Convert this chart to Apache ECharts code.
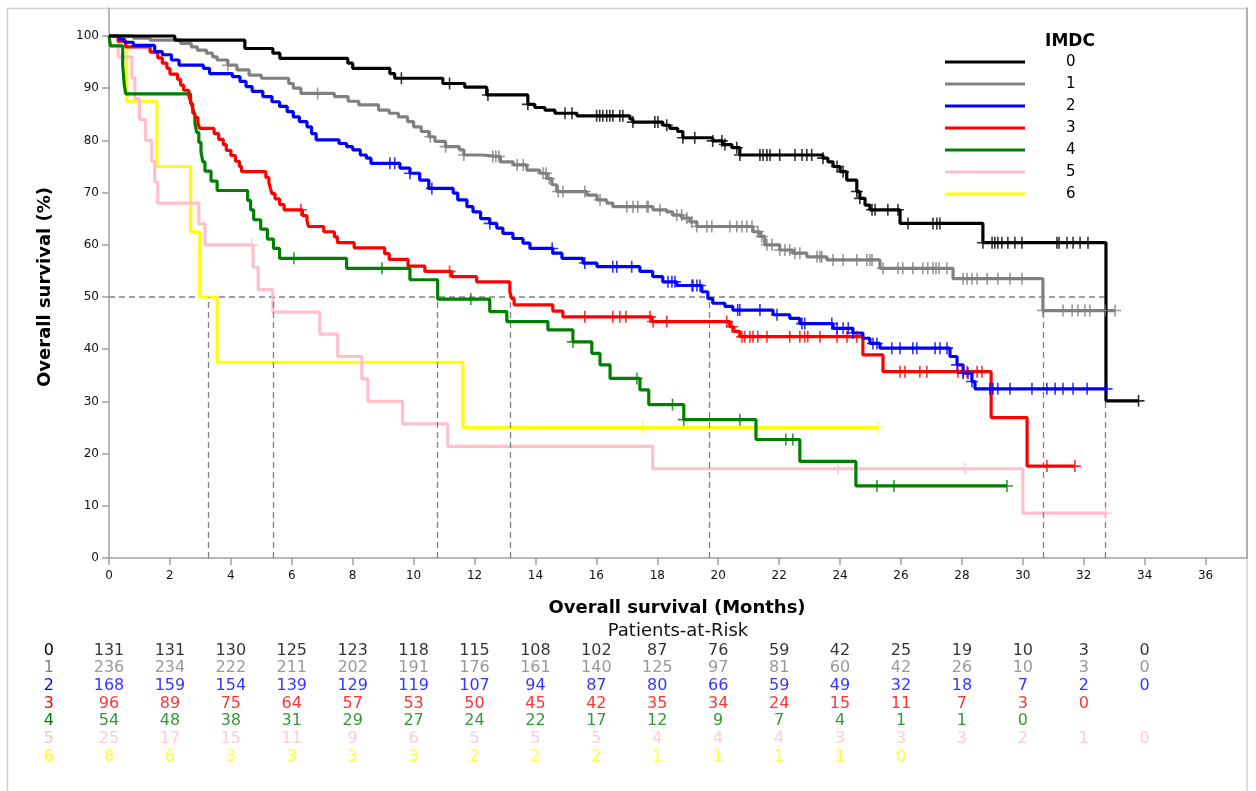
<!DOCTYPE html>
<html>
<head>
<meta charset="utf-8">
<script src="https://cdn.jsdelivr.net/npm/echarts@6/dist/echarts.min.js"></script>
<style>
  html, body { margin: 0; padding: 0; background: #ffffff; }
  #chart { width: 1256px; height: 791px; }
</style>
</head>
<body>
<div id="chart"></div>
<script>
// IMDC risk groups
const groupNames = ['0', '1', '2', '3', '4', '5', '6'];

// Kaplan-Meier steps per group: [month, survival % after the event]
const steps0 = [[2.16,99.2],[4.46,97.6],[5.38,96.7],[5.61,95.7],[7.84,94.8],[8.0,93.8],[9.22,92.8],[9.38,91.9],[10.96,90.9],[11.68,90.2],[12.4,88.7],[13.75,86.9],[13.98,86.3],[14.31,85.8],[14.64,85.2],[15.36,84.7],[17.1,84.1],[17.2,83.5],[18.18,82.9],[18.41,82.3],[18.67,81.7],[18.84,80.5],[19.82,79.9],[20.15,79.2],[20.45,78.6],[20.71,77.2],[23.44,76.6],[23.6,75.9],[23.77,75.0],[24.0,74.0],[24.22,72.4],[24.55,70.2],[24.65,68.9],[24.82,67.6],[24.98,66.7],[25.97,64.1],[28.69,60.4],[32.73,30.1]];
const steps1 = [[0.8,99.6],[1.35,99.2],[2.35,98.6],[2.7,97.9],[2.9,97.3],[3.2,96.7],[3.4,96.0],[3.55,95.4],[3.9,94.4],[4.2,93.5],[4.6,92.5],[5.0,91.9],[5.9,90.9],[6.05,90.0],[6.3,89.0],[7.4,88.4],[7.85,87.5],[8.2,86.8],[8.85,85.8],[9.2,85.2],[9.5,84.5],[9.8,83.6],[10.0,82.6],[10.25,81.7],[10.5,80.7],[10.7,79.8],[11.05,78.8],[11.5,78.2],[11.65,77.2],[12.25,76.9],[12.85,75.9],[13.27,75.3],[13.72,74.3],[14.14,73.7],[14.37,72.7],[14.54,71.5],[14.7,70.2],[15.69,69.5],[16.02,68.6],[16.34,68.0],[16.54,67.3],[17.86,66.7],[18.31,66.3],[18.51,65.7],[18.81,65.1],[19.07,64.4],[19.3,63.5],[21.14,62.5],[21.37,61.6],[21.53,60.0],[22.02,59.0],[22.45,58.4],[22.91,57.7],[23.57,57.1],[25.31,55.5],[27.71,53.5],[30.66,47.4]];
const steps2 = [[0.35,99.4],[0.5,98.8],[0.8,98.2],[1.5,97.0],[1.75,96.4],[2.05,95.4],[2.3,94.4],[3.1,93.8],[3.3,92.8],[4.05,92.2],[4.3,91.3],[4.5,90.3],[4.7,89.4],[5.05,88.4],[5.35,87.4],[5.6,86.5],[5.85,85.5],[6.05,84.5],[6.25,83.6],[6.5,82.6],[6.65,81.3],[6.8,80.1],[7.55,79.4],[7.8,78.8],[8.0,78.2],[8.25,77.2],[8.45,76.6],[8.6,75.6],[9.55,74.7],[9.88,73.7],[10.2,72.4],[10.5,70.8],[11.3,69.9],[11.45,68.6],[11.75,67.3],[11.95,66.3],[12.2,65.0],[12.5,64.1],[12.73,63.2],[12.93,62.2],[13.26,61.2],[13.59,60.3],[13.82,59.3],[14.57,58.4],[14.87,57.4],[15.56,56.5],[16.02,55.8],[17.43,54.9],[17.85,53.9],[18.18,52.9],[18.64,52.2],[19.46,51.0],[19.66,49.7],[19.82,48.8],[20.22,48.2],[20.48,47.5],[21.8,46.6],[22.35,45.9],[22.68,44.9],[23.77,44.0],[24.42,43.1],[24.75,42.1],[24.98,41.1],[25.31,40.2],[27.61,38.6],[27.84,37.0],[28.04,35.4],[28.33,33.8],[28.43,32.4]];
const steps3 = [[0.3,99.0],[0.55,97.9],[1.35,96.9],[1.6,95.8],[1.75,94.8],[1.9,93.8],[2.0,92.7],[2.25,91.7],[2.35,90.6],[2.45,89.6],[2.62,88.5],[2.68,87.5],[2.73,86.5],[2.78,85.4],[2.84,84.4],[2.92,83.3],[2.98,82.3],[3.45,81.3],[3.6,80.2],[3.75,79.2],[3.85,78.1],[4.0,77.1],[4.15,76.0],[4.28,75.0],[4.35,74.0],[5.15,72.9],[5.25,71.9],[5.3,70.8],[5.35,69.8],[5.45,68.8],[5.6,67.7],[5.75,66.7],[6.35,65.6],[6.5,64.6],[6.55,63.5],[7.05,62.5],[7.4,61.5],[7.5,60.4],[8.05,59.4],[9.05,58.3],[9.2,57.2],[9.82,55.9],[10.37,54.9],[11.25,53.9],[12.07,52.9],[13.16,50.9],[13.22,49.7],[13.3,48.5],[14.57,47.3],[14.9,46.2],[17.82,45.3],[20.38,44.3],[20.51,43.4],[20.71,42.4],[24.75,38.9],[25.41,35.7],[28.96,26.9],[30.14,17.6]];
const steps4 = [[0.05,98.1],[0.45,94.4],[0.5,90.7],[0.55,88.9],[2.68,87.0],[2.75,85.2],[2.82,83.3],[2.88,81.5],[2.95,79.6],[3.02,77.8],[3.08,75.9],[3.15,74.1],[3.35,72.2],[3.55,70.4],[4.55,68.5],[4.65,66.7],[4.75,64.8],[4.98,63.0],[5.2,61.1],[5.4,59.3],[5.6,57.4],[7.8,55.5],[9.88,53.3],[10.79,49.6],[12.5,47.2],[13.06,45.3],[14.41,43.7],[15.23,41.4],[15.85,39.2],[16.12,37.0],[16.45,34.4],[17.43,32.2],[17.72,29.4],[18.87,26.5],[21.24,22.7],[22.68,18.5],[24.52,13.8]];
const steps5 = [[0.3,96],[0.75,92],[0.85,88],[1.0,84],[1.2,80],[1.4,76],[1.5,72],[1.6,68],[2.95,64],[3.15,60],[4.73,55.7],[4.9,51.4],[5.38,47.1],[6.92,42.9],[7.51,38.6],[8.3,34.3],[8.5,30.0],[9.64,25.7],[11.12,21.4],[17.85,17.1],[30.0,8.6]];
const steps6 = [[0.58,87.5],[1.57,75],[2.68,62.5],[2.98,50],[3.55,37.5],[11.62,25]];
const allSteps = [steps0, steps1, steps2, steps3, steps4, steps5, steps6];

// Censoring times (months) per group
const censor0 = [9.6,11.18,12.44,13.75,14.97,15.2,16.01,16.11,16.21,16.34,16.44,16.54,16.77,16.87,17.2,17.92,18.02,18.31,18.84,19.23,19.82,20.12,20.22,20.61,20.71,21.37,21.47,21.6,21.7,22.02,22.52,22.75,22.91,23.07,23.44,23.9,24.1,24.55,24.65,25.05,25.15,25.57,25.9,26.23,27.05,27.18,27.28,28.69,28.99,29.08,29.18,29.31,29.51,29.74,29.97,31.12,31.19,31.45,31.65,31.88,32.14,33.8];
const censor1 = [3.9,6.85,10.55,11.05,11.65,12.6,12.7,12.8,13.4,13.6,14.25,14.35,14.45,14.75,14.9,15.62,16.12,17.0,17.2,17.36,17.66,17.7,18.09,18.64,18.8,18.97,19.13,19.3,19.63,19.79,20.38,20.61,20.78,20.94,21.11,21.3,21.43,21.6,21.76,22.02,22.19,22.35,22.52,22.68,23.24,23.34,23.4,23.77,24.1,24.55,24.88,24.98,25.05,25.41,25.9,26.06,26.39,26.72,26.88,27.05,27.15,27.25,27.51,28.04,28.17,28.33,28.5,28.83,29.18,29.58,29.97,30.66,31.32,31.62,31.81,32.04,32.2,32.7,33.03];
const censor2 = [9.22,9.38,9.88,10.6,12.5,14.55,15.62,16.54,16.67,17.16,18.35,18.48,18.58,19.14,19.17,19.3,19.4,20.64,20.71,21.37,21.93,22.75,22.84,23.73,23.9,24.1,24.27,24.42,25.08,25.21,25.7,25.97,26.39,26.52,27.12,27.28,27.51,27.84,28.04,28.2,28.33,28.92,29.02,29.18,29.58,30.3,30.79,31.06,31.32,31.65,32.11,32.75];
const censor3 = [6.3,11.18,15.62,16.54,16.77,16.97,17.76,17.86,18.31,20.28,20.45,20.78,20.87,21.04,21.14,21.3,21.6,22.35,22.68,22.84,22.94,23.34,23.9,24.23,24.55,25.97,26.13,26.62,26.85,27.87,28.04,28.17,28.5,28.66,30.79,31.71];
const censor4 = [6.07,8.96,11.88,15.23,17.33,18.5,18.87,20.71,22.22,22.45,25.21,25.77,29.48];
const censor5 = [4.69,23.93,28.1,32.72];
const censor6 = [17.53,25.24];
const allCensor = [censor0, censor1, censor2, censor3, censor4, censor5, censor6];

// Last follow-up time per group (months)
const lastTimes = [33.8, 33.03, 32.75, 31.71, 29.48, 32.72, 25.24];

// Median survival (months) per group, for the reference lines at 50%
const medians = [32.7, 30.66, 19.72, 13.16, 10.79, 5.38, 3.27];

// Patients at risk
const riskTimes = [0,2,4,6,8,10,12,14,16,18,20,22,24,26,28,30,32,34];
const risk0 = [131,131,130,125,123,118,115,108,102,87,76,59,42,25,19,10,3,0];
const risk1 = [236,234,222,211,202,191,176,161,140,125,97,81,60,42,26,10,3,0];
const risk2 = [168,159,154,139,129,119,107,94,87,80,66,59,49,32,18,7,2,0];
const risk3 = [96,89,75,64,57,53,50,45,42,35,34,24,15,11,7,3,0];
const risk4 = [54,48,38,31,29,27,24,22,17,12,9,7,4,1,1,0];
const risk5 = [25,17,15,11,9,6,5,5,5,4,4,4,3,3,3,2,1,0];
const risk6 = [8,6,3,3,3,3,2,2,2,1,1,1,1,0];
const allRisk = [risk0, risk1, risk2, risk3, risk4, risk5, risk6];

const xTicks = [0,2,4,6,8,10,12,14,16,18,20,22,24,26,28,30,32,34,36];
const yTicks = [0,10,20,30,40,50,60,70,80,90,100];

const palette = ['#000000', '#808080', '#0000ff', '#ff0000', '#008000', '#ffc0cb', '#ffff00'];
const FONT = 'DejaVu Sans';
const X_MAX = 37.36;
const Y_MAX = 105.36;

// survival value of a step curve at time t
function survivalAt(steps, t) {
  let s = 100;
  for (const [tt, v] of steps) { if (tt <= t + 1e-9) s = v; else break; }
  return s;
}

const plusSymbol = 'path://M5.2,0H6.8V12H5.2Z M0,5.2H12V6.8H0Z';

const series = [];

// median reference lines (dashed)
const medMax = Math.max(...medians);
series.push({
  name: 'median',
  type: 'line',
  xAxisIndex: 0, yAxisIndex: 0,
  data: [[0, 50], [medMax, 50]],
  symbol: 'none',
  silent: true,
  z: 1,
  lineStyle: { color: '#808080', width: 1.3, type: [6, 4] },
  markLine: {
    silent: true,
    symbol: ['none', 'none'],
    label: { show: false },
    lineStyle: { color: '#808080', width: 1.3, type: [6, 4] },
    data: medians.map(m => [{ coord: [m, 0] }, { coord: [m, 50] }])
  }
});

// survival curves, drawn from group 6 up to group 0
for (let g = 6; g >= 0; g--) {
  const st = allSteps[g];
  const lastVal = st.length ? st[st.length - 1][1] : 100;
  const data = [[0, 100]].concat(st).concat([[lastTimes[g], lastVal]]);
  series.push({
    name: groupNames[g],
    type: 'line',
    xAxisIndex: 0, yAxisIndex: 0,
    step: 'end',
    data: data,
    symbol: 'none',
    z: 3 + (6 - g),
    itemStyle: { color: palette[g] },
    lineStyle: { color: palette[g], width: 3.2 }
  });
}
for (let g = 6; g >= 0; g--) {
  series.push({
    name: 'censored ' + groupNames[g],
    type: 'scatter',
    xAxisIndex: 0, yAxisIndex: 0,
    data: allCensor[g].map(t => [t, survivalAt(allSteps[g], t)]),
    symbol: plusSymbol,
    symbolSize: [12, 12],
    silent: true,
    z: 12 + (6 - g),
    itemStyle: { color: palette[g] }
  });
}

// patients-at-risk table
for (let g = 0; g < 7; g++) {
  series.push({
    name: 'risk ' + groupNames[g],
    type: 'scatter',
    xAxisIndex: 1, yAxisIndex: 2,
    data: allRisk[g].map((n, i) => [riskTimes[i], g, n]),
    symbolSize: 2,
    silent: true,
    itemStyle: { color: 'rgba(255,255,255,0)' },
    label: {
      show: true,
      position: 'inside',
      formatter: p => String(p.value[2]),
      color: palette[g],
      fontFamily: FONT,
      fontSize: 16
    }
  });
}

const rowRich = {};
groupNames.forEach((n, i) => {
  rowRich['g' + i] = { color: palette[i], fontFamily: FONT, fontSize: 16 };
});

const option = {
  animation: false,
  backgroundColor: '#ffffff',
  grid: [
    { left: 109, top: 8, width: 1138, height: 550 },
    { left: 109, top: 641.6, width: 1138, height: 124 }
  ],
  xAxis: [
    {
      gridIndex: 0, type: 'value', min: 0, max: X_MAX,
      axisLine: { show: true, lineStyle: { color: '#a0a0a0', width: 1.5 } },
      axisTick: { show: true, length: 7, customValues: xTicks, lineStyle: { color: '#a0a0a0', width: 1.5 } },
      axisLabel: { customValues: xTicks, margin: 12, color: '#111', fontFamily: FONT, fontSize: 12 },
      splitLine: { show: false }
    },
    { gridIndex: 1, type: 'value', min: 0, max: X_MAX, show: false }
  ],
  yAxis: [
    {
      gridIndex: 0, type: 'value', min: 0, max: Y_MAX,
      axisLine: { show: true, lineStyle: { color: '#a0a0a0', width: 1.5 } },
      axisTick: { show: true, length: 7, customValues: yTicks, lineStyle: { color: '#a0a0a0', width: 1.5 } },
      axisLabel: { customValues: yTicks, margin: 10, color: '#111', fontFamily: FONT, fontSize: 12 },
      splitLine: { show: false }
    },
    {
      gridIndex: 0, type: 'value', min: 0, max: Y_MAX, position: 'right',
      axisLine: { show: true, lineStyle: { color: '#a0a0a0', width: 1.5 } },
      axisTick: { show: false }, axisLabel: { show: false }, splitLine: { show: false }
    },
    {
      gridIndex: 1, type: 'category', data: groupNames, inverse: true,
      axisLine: { show: false }, axisTick: { show: false }, splitLine: { show: false },
      axisLabel: {
        margin: 55,
        formatter: (v, i) => '{g' + i + '|' + v + '}',
        rich: rowRich
      }
    }
  ],
  legend: {
    data: groupNames,
    orient: 'vertical',
    left: 940,
    top: 46,
    itemWidth: 80,
    itemHeight: 3,
    itemGap: 0,
    icon: 'rect',
    selectedMode: false,
    textStyle: { fontFamily: FONT, fontSize: 15, color: '#000', lineHeight: 22, padding: [0, 0, 0, 36] }
  },
  graphic: [
    {
      type: 'rect', silent: true, z: 0,
      shape: { x: 7.5, y: 8.5, width: 1239.5, height: 795 },
      style: { fill: 'none', stroke: '#d0d0d0', lineWidth: 1.5 }
    },
    {
      type: 'text', x: 1070, y: 42, silent: true,
      style: { text: 'IMDC', font: 'bold 17px "DejaVu Sans"', fill: '#000', align: 'center', verticalAlign: 'middle' }
    },
    {
      type: 'text', x: 45, y: 287, rotation: Math.PI / 2, silent: true,
      style: { text: 'Overall survival (%)', font: 'bold 18px "DejaVu Sans"', fill: '#000', align: 'center', verticalAlign: 'middle' }
    },
    {
      type: 'text', x: 677, y: 608, silent: true,
      style: { text: 'Overall survival (Months)', font: 'bold 18px "DejaVu Sans"', fill: '#000', align: 'center', verticalAlign: 'middle' }
    },
    {
      type: 'text', x: 678, y: 631, silent: true,
      style: { text: 'Patients-at-Risk', font: '18px "DejaVu Sans"', fill: '#111', align: 'center', verticalAlign: 'middle' }
    }
  ],
  series: series
};

const chart = echarts.init(document.getElementById('chart'), null, { renderer: 'canvas' });
chart.setOption(option);
</script>
</body>
</html>
